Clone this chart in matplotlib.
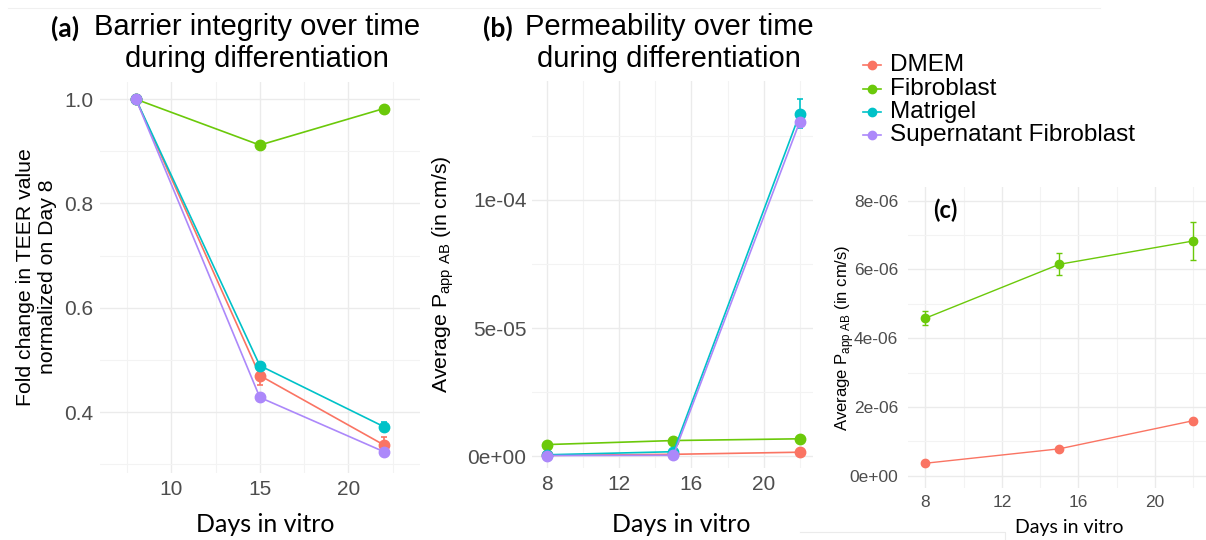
import matplotlib
matplotlib.use("Agg")
import matplotlib.pyplot as plt
from matplotlib.lines import Line2D

W, H = 1206, 540
plt.rcParams["font.family"] = ["Liberation Sans", "DejaVu Sans"]
plt.rcParams["mathtext.fontset"] = "custom"
plt.rcParams["mathtext.rm"] = "Liberation Sans"

# data
days = [8, 15, 22]
groups = ["DMEM", "Fibroblast", "Matrigel", "Supernatant Fibroblast"]
colors = ["#FA7463", "#6BC90A", "#00C2C8", "#AC88FA"]

# (a) fold change in TEER, normalised on day 8
teer = {
    "DMEM": [1.0, 0.470, 0.337],
    "Fibroblast": [1.0, 0.912, 0.982],
    "Matrigel": [1.0, 0.489, 0.372],
    "Supernatant Fibroblast": [1.0, 0.428, 0.324],
}
teer_err = {
    "DMEM": [0.0, 0.019, 0.015],
    "Fibroblast": [0.0, 0.004, 0.004],
    "Matrigel": [0.0, 0.004, 0.009],
    "Supernatant Fibroblast": [0.0, 0.004, 0.004],
}

# (b) permeability, all groups
perm = {
    "DMEM": [3.6e-7, 7.8e-7, 1.6e-6],
    "Fibroblast": [4.58e-6, 6.15e-6, 6.83e-6],
    "Matrigel": [6e-7, 1.8e-6, 1.337e-4],
    "Supernatant Fibroblast": [3e-7, 4e-7, 1.306e-4],
}
perm_err = {
    "DMEM": [0.0, 0.0, 0.0],
    "Fibroblast": [2e-7, 3.2e-7, 5.6e-7],
    "Matrigel": [0.0, 0.0, 5.5e-6],
    "Supernatant Fibroblast": [0.0, 0.0, 1.5e-6],
}

# (c) zoom on DMEM / Fibroblast
zoom_groups = ["DMEM", "Fibroblast"]

a_xticks = [10, 15, 20]
a_xminor = [7.5, 12.5, 17.5, 22.5]
a_yticks = [0.4, 0.6, 0.8, 1.0]
a_yminor = [0.3, 0.5, 0.7, 0.9]
a_ylabels = ["0.4", "0.6", "0.8", "1.0"]

b_xticks = [8, 12, 16, 20]
b_xminor = [10, 14, 18, 22]
b_yticks = [0, 5e-5, 1e-4]
b_yminor = [2.5e-5, 7.5e-5, 1.25e-4]
b_ylabels = ["0e+00", "5e-05", "1e-04"]

c_yticks = [0, 2e-6, 4e-6, 6e-6, 8e-6]
c_yminor = [1e-6, 3e-6, 5e-6, 7e-6]
c_ylabels = ["0e+00", "2e-06", "4e-06", "6e-06", "8e-06"]

TICK = "#4D4D4D"


def fx(p):
    return p / W


def fy(p):
    return 1 - p / H


def add_ax(left, top, right, bottom):
    return fig.add_axes([fx(left), fy(bottom), (right - left) / W, (bottom - top) / H])


def style(ax, xt, xm, yt, ym, ylab, fs, xpad, ypad):
    ax.set_xticks(xt)
    ax.set_xticks(xm, minor=True)
    ax.set_yticks(yt)
    ax.set_yticks(ym, minor=True)
    ax.set_yticklabels(ylab)
    ax.grid(which="major", color="#EBEBEB", lw=1.0)
    ax.grid(which="minor", color="#F3F3F3", lw=0.8)
    ax.set_axisbelow(True)
    for s in ax.spines.values():
        s.set_visible(False)
    ax.tick_params(which="both", length=0, labelsize=fs, labelcolor=TICK)
    ax.tick_params(axis="x", pad=xpad)
    ax.tick_params(axis="y", pad=ypad)


fig = plt.figure(figsize=(W / 100, H / 100), dpi=100)

# panel (a)
ax1 = add_ax(100, 82, 420, 473)
for g, c in zip(groups, colors):
    ax1.errorbar(days, teer[g], yerr=teer_err[g], color=c, lw=1.2, marker="o",
                 ms=7.5, capsize=2.5, elinewidth=1.2, capthick=1.2)
ax1.set_xlim(5.97, 24.05)
ax1.set_ylim(0.283, 1.033)
style(ax1, a_xticks, a_xminor, a_yticks, a_yminor, a_ylabels, 15, 5, 5)

# panel (b)
ax2 = add_ax(532, 81, 813, 468)
for g, c in zip(groups, colors):
    ax2.errorbar(days, perm[g], yerr=perm_err[g], color=c, lw=1.2, marker="o",
                 ms=7.5, capsize=2.5, elinewidth=1.2, capthick=1.2)
ax2.set_xlim(7.17, 22.73)
ax2.set_ylim(-4.56e-6, 1.464e-4)
style(ax2, b_xticks, b_xminor, b_yticks, b_yminor, b_ylabels, 15, 5, 4)

# panel (c)
ax3 = add_ax(908, 187, 1206, 488)
for g in zoom_groups:
    c = colors[groups.index(g)]
    ax3.errorbar(days, perm[g], yerr=perm_err[g], color=c, lw=1.0, marker="o",
                 ms=6, capsize=2, elinewidth=1.0, capthick=1.0)
ax3.set_xlim(7.1, 22.66)
ax3.set_ylim(-3.6e-7, 8.4e-6)
style(ax3, b_xticks, b_xminor, c_yticks, c_yminor, c_ylabels, 12.5, 5, 7)

# titles
fig.text(fx(51), fy(28), "(a)", fontsize=19, fontweight="bold", family="Lato",
         ha="left", va="center")
fig.text(fx(257), fy(43), "Barrier integrity over time\nduring differentiation",
         fontsize=21, ha="center", va="center", linespacing=1.15)
fig.text(fx(483), fy(28), "(b)", fontsize=19, fontweight="bold", family="Lato",
         ha="left", va="center")
fig.text(fx(669), fy(43), "Permeability over time\nduring differentiation",
         fontsize=21, ha="center", va="center", linespacing=1.15)
fig.text(fx(945), fy(210), "(c)", fontsize=17, fontweight="bold", family="Lato",
         ha="center", va="center")

# axis labels
fig.text(fx(265), fy(524), "Days in vitro", fontsize=18, family="Lato", ha="center", va="center")
fig.text(fx(681), fy(524), "Days in vitro", fontsize=18, family="Lato", ha="center", va="center")
fig.text(fx(1069), fy(528), "Days in vitro", fontsize=14, family="Lato", ha="center", va="center")
fig.text(fx(37), fy(277), "Fold change in TEER value\nnormalized on Day 8", fontsize=15.3,
         rotation=90, ha="center", va="center", linespacing=1.2)
fig.text(fx(443), fy(274), r"Average P$_{\mathregular{app\ AB}}$ (in cm/s)", fontsize=15.3,
         rotation=90, ha="center", va="center")
fig.text(fx(845), fy(338), r"Average P$_{\mathregular{app\ AB}}$ (in cm/s)", fontsize=12,
         rotation=90, ha="center", va="center")

# legend
leg_y = [65, 89, 112, 135]
for g, c, y in zip(groups, colors, leg_y):
    fig.add_artist(Line2D([fx(863), fx(881)], [fy(y), fy(y)], color=c, lw=1.2,
                          transform=fig.transFigure))
    fig.add_artist(Line2D([fx(872)], [fy(y)], color=c, marker="o", ms=6,
                          transform=fig.transFigure))
    fig.text(fx(890), fy(y), g, fontsize=17.5, ha="left", va="center")

# faint frame leftovers in the source image
fig.add_artist(Line2D([fx(8), fx(1100)], [fy(8), fy(8)], color="#F0F0F0", lw=0.8,
                      transform=fig.transFigure))
fig.add_artist(Line2D([fx(800), fx(1005), fx(1005)], [fy(532), fy(532), fy(540)],
                      color="#EBEBEB", lw=0.8, transform=fig.transFigure))

fig.savefig("out.png", dpi=100, facecolor="white")
